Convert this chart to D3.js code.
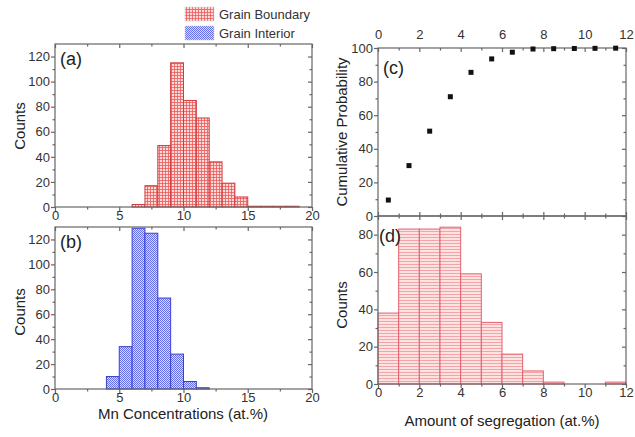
<!DOCTYPE html>
<meta charset="utf-8">
<head>
<script src="https://d3js.org/d3.v7.min.js"></script>
<style>
  body { margin: 0; background: #fff; }
  svg { font-family: "Liberation Sans", Arial, sans-serif; }
  .tick text { font-size: 13px; fill: #333; }
</style>
</head>
<body>
<div id="chart"></div>
<script>
// (a) grain boundary histogram, bins of 1 at.% starting at 6
var gbStart = 6;
var gbCounts = [2, 17, 49, 115, 85, 71, 36, 19, 8, 0.6, 0.6, 0.6, 0.6];
// (b) grain interior histogram, starting at 4
var giStart = 4;
var giCounts = [10, 34, 129, 125, 73, 28, 6, 1];
// (c) cumulative probability
var cumX = [0.5, 1.5, 2.5, 3.5, 4.5, 5.5, 6.5, 7.5, 8.5, 9.5, 10.5, 11.5];
var cumY = [9.5, 30, 50.5, 71, 85.5, 93.5, 97.5, 99.4, 99.6, 99.7, 99.8, 99.9];
// (d) segregation histogram, starting at 0
var segStart = 0;
var segCounts = [38, 83, 83, 84, 59, 33, 16, 7, 1, 0, 0, 1];

var ticksMn = [0, 5, 10, 15, 20];
var ticksCount = [0, 20, 40, 60, 80, 100, 120];
var ticksSeg = [0, 2, 4, 6, 8, 10, 12];
var ticksProb = [0, 20, 40, 60, 80, 100];
var ticksCountD = [0, 20, 40, 60, 80];

var W = 635, H = 437;
var svg = d3.select("#chart").append("svg").attr("width", W).attr("height", H);

// fill patterns
var defs = svg.append("defs");
var p1 = defs.append("pattern").attr("id", "gridRed").attr("patternUnits", "userSpaceOnUse")
  .attr("width", 3).attr("height", 3);
p1.append("rect").attr("width", 3).attr("height", 3).attr("fill", "#fcdada");
p1.append("path").attr("d", "M0,0.5H3M0.5,0V3").attr("stroke", "#ec5a5a").attr("stroke-width", 0.8);

var p2 = defs.append("pattern").attr("id", "checkBlue").attr("patternUnits", "userSpaceOnUse")
  .attr("width", 2).attr("height", 2);
p2.append("rect").attr("width", 2).attr("height", 2).attr("fill", "#dadcfa");
p2.append("rect").attr("width", 1).attr("height", 1).attr("fill", "#646cea");
p2.append("rect").attr("x", 1).attr("y", 1).attr("width", 1).attr("height", 1).attr("fill", "#646cea");

var p3 = defs.append("pattern").attr("id", "hlinePink").attr("patternUnits", "userSpaceOnUse")
  .attr("width", 3).attr("height", 3);
p3.append("rect").attr("width", 3).attr("height", 3).attr("fill", "#fde2e2");
p3.append("path").attr("d", "M0,0.5H3").attr("stroke", "#f4a4a6").attr("stroke-width", 1);

var frameColor = "#666";

function panel(box, xDom, yDom, xt, yt, opts) {
  var g = svg.append("g");
  var x = d3.scaleLinear().domain(xDom).range([box.l, box.r]);
  var y = d3.scaleLinear().domain(yDom).range([box.b, box.t]);
  g.append("rect").attr("x", box.l).attr("y", box.t).attr("width", box.r - box.l)
    .attr("height", box.b - box.t).attr("fill", "none").attr("stroke", frameColor).attr("stroke-width", 1.2);

  var xMinor = [];
  for (var i = 0; i < xt.length - 1; i++) xMinor.push((xt[i] + xt[i + 1]) / 2);
  var yMinor = [];
  for (var j = 0; j < yt.length - 1; j++) yMinor.push((yt[j] + yt[j + 1]) / 2);

  function styleAxis(a) {
    a.select(".domain").remove();
    a.selectAll(".tick line").attr("stroke", frameColor).attr("stroke-width", 1.2);
  }
  // bottom
  var bx = g.append("g").attr("transform", "translate(0," + box.b + ")")
    .call(d3.axisBottom(x).tickValues(xt).tickSize(opts.xLabelsTop ? -4 : 4).tickPadding(0)
      .tickFormat(opts.xLabelsTop ? "" : d3.format("d")));
  styleAxis(bx);
  var bm = g.append("g").attr("transform", "translate(0," + box.b + ")")
    .call(d3.axisBottom(x).tickValues(xMinor).tickSize(opts.xLabelsTop ? -2.5 : 2.5).tickFormat(""));
  styleAxis(bm);
  // top
  var tx = g.append("g").attr("transform", "translate(0," + box.t + ")")
    .call(d3.axisTop(x).tickValues(xt).tickSize(-4).tickPadding(opts.xLabelsTop ? 9 : 2)
      .tickFormat(opts.xLabelsTop ? d3.format("d") : ""));
  styleAxis(tx);
  var tm = g.append("g").attr("transform", "translate(0," + box.t + ")")
    .call(d3.axisTop(x).tickValues(xMinor).tickSize(-2.5).tickFormat(""));
  styleAxis(tm);
  // left
  var ly = g.append("g").attr("transform", "translate(" + box.l + ",0)")
    .call(d3.axisLeft(y).tickValues(yt).tickSize(4).tickPadding(1));
  styleAxis(ly);
  var lm = g.append("g").attr("transform", "translate(" + box.l + ",0)")
    .call(d3.axisLeft(y).tickValues(yMinor).tickSize(2.5).tickFormat(""));
  styleAxis(lm);
  // right
  var ry = g.append("g").attr("transform", "translate(" + box.r + ",0)")
    .call(d3.axisRight(y).tickValues(yt).tickSize(-4).tickFormat(""));
  styleAxis(ry);
  var rm = g.append("g").attr("transform", "translate(" + box.r + ",0)")
    .call(d3.axisRight(y).tickValues(yMinor).tickSize(-2.5).tickFormat(""));
  styleAxis(rm);
  g.selectAll(".tick text").style("font-size", "13px").attr("fill", "#333");
  return {g: g, x: x, y: y};
}

function bars(p, start, counts, fill, stroke) {
  var data = counts.map(function (c, i) { return {x0: start + i, x1: start + i + 1, v: c}; });
  p.g.insert("g", ":first-child").selectAll("rect").data(data).enter().append("rect")
    .attr("x", function (d) { return p.x(d.x0); })
    .attr("width", function (d) { return p.x(d.x1) - p.x(d.x0); })
    .attr("y", function (d) { return p.y(d.v); })
    .attr("height", function (d) { return p.y(0) - p.y(d.v); })
    .attr("fill", fill).attr("stroke", stroke).attr("stroke-width", 1);
}

function label(x, y, t, size) {
  svg.append("text").attr("x", x).attr("y", y).attr("font-size", size).attr("fill", "#222").text(t);
}
function yTitle(x, y, t) {
  svg.append("text").attr("transform", "translate(" + x + "," + y + ") rotate(-90)")
    .attr("text-anchor", "middle").attr("font-size", 15).attr("fill", "#222").text(t);
}

// (a)
var pa = panel({l: 55, r: 312, t: 44, b: 207}, [0, 20], [0, 130], ticksMn, ticksCount, {});
bars(pa, gbStart, gbCounts, "url(#gridRed)", "#d23c3c");
label(60, 65, "(a)", 18);
yTitle(25, 126, "Counts");

// (b)
var pb = panel({l: 55, r: 312, t: 227, b: 389}, [0, 20], [0, 130], ticksMn, ticksCount, {});
bars(pb, giStart, giCounts, "url(#checkBlue)", "#3a40c8");
label(60, 248, "(b)", 18);
yTitle(25, 312, "Counts");
svg.append("text").attr("x", 183).attr("y", 419).attr("text-anchor", "middle")
  .attr("font-size", 15).attr("fill", "#222").text("Mn Concentrations (at.%)");

// (c)
var pc = panel({l: 378, r: 626, t: 48, b: 216}, [0, 12], [0, 100], ticksSeg, ticksProb, {xLabelsTop: true});
pc.g.append("g").selectAll("rect").data(cumX).enter().append("rect")
  .attr("x", function (d) { return pc.x(d) - 2.5; })
  .attr("y", function (d, i) { return pc.y(cumY[i]) - 2.5; })
  .attr("width", 5).attr("height", 5).attr("fill", "#111");
label(383, 74, "(c)", 18);
yTitle(347, 132, "Cumulative Probability");

// (d)
var pd = panel({l: 378, r: 626, t: 216, b: 384}, [0, 12], [0, 90], ticksSeg, ticksCountD, {});
bars(pd, segStart, segCounts, "url(#hlinePink)", "#e0606e");
label(379, 242, "(d)", 18);
yTitle(347, 305, "Counts");
svg.append("text").attr("x", 502).attr("y", 426).attr("text-anchor", "middle")
  .attr("font-size", 15).attr("fill", "#222").text("Amount of segregation (at.%)");

// legend
var legend = [["Grain Boundary", "url(#gridRed)", "#d23c3c"], ["Grain Interior", "url(#checkBlue)", "#3a40c8"]];
legend.forEach(function (d, i) {
  svg.append("rect").attr("x", 185).attr("y", 7 + i * 19).attr("width", 29).attr("height", 14)
    .attr("fill", d[1]).attr("stroke", "#ccc").attr("stroke-width", 0.5);
  svg.append("text").attr("x", 219).attr("y", 19 + i * 19).attr("font-size", 13)
    .attr("fill", "#333").text(d[0]);
});
</script>
</body>
